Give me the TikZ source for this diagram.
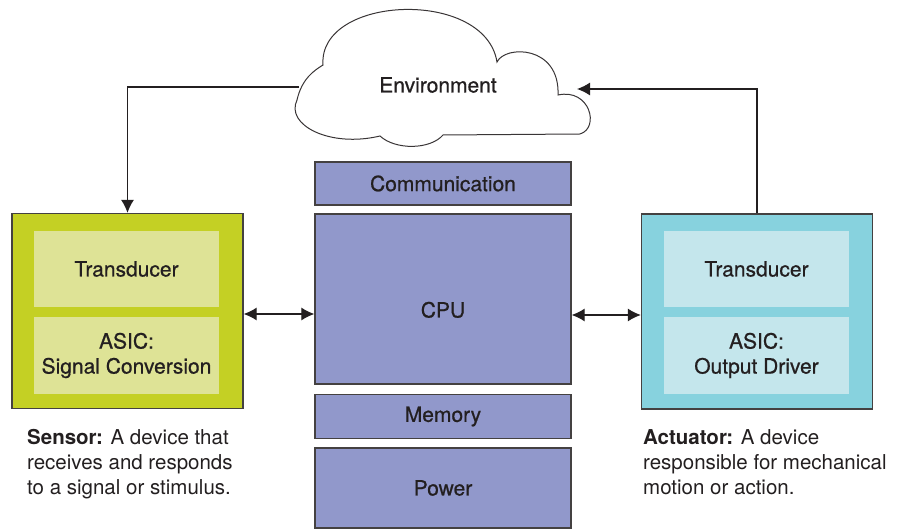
\documentclass[tikz,border=0pt]{standalone}
\usepackage{fontspec}
\setmainfont{TeX Gyre Heros}
\newfontfamily\medfont[FakeBold=0.7]{TeX Gyre Heros}
\usepackage{tikz}
\usetikzlibrary{arrows.meta}
\usetikzlibrary{positioning}

\definecolor{senOut}{RGB}{196,208,36}
\definecolor{senIn}{RGB}{222,227,150}
\definecolor{actOut}{RGB}{135,210,222}
\definecolor{actIn}{RGB}{196,230,236}
\definecolor{mcu}{RGB}{145,152,203}
\definecolor{ink}{RGB}{35,31,32}

\begin{document}
\begin{tikzpicture}[x=1pt,y=-1pt]
			\tikzset{lab/.style = {font=\medfont\fontsize{21}{25}\selectfont, text=ink, align=center}}
			\tikzset{outer/.style = {shape=rectangle, draw=ink!85, line width=1.3pt,
					minimum width=231pt, minimum height=195pt, inner sep=0pt}}
			\tikzset{inner/.style = {lab, shape=rectangle, minimum width=185pt,
					minimum height=76pt, inner sep=0pt}}
			\tikzset{block/.style = {lab, shape=rectangle, draw=ink!85, line width=1.3pt,
					fill=mcu, minimum width=256pt, inner sep=0pt}}
			\tikzset{desc/.style = {font=\fontsize{20.5}{25}\selectfont, text=ink,
					align=left, inner sep=0pt}}
			\tikzset{edge/.style = {->, >={Latex[length=13pt,width=13pt]}, line width=1.2pt, draw=ink}}
			\tikzset{edgebi/.style = {<->, >={Latex[length=13pt,width=13pt]}, line width=1.2pt, draw=ink}}
			
			\useasboundingbox (0,0) rectangle (905,529);
			
			% cloud
			\draw[ink!90, line width=1pt, fill=white] (323,65)
				.. controls (318,-5) and (485,-12) .. (497,62)
				.. controls (505,45) and (560,45) .. (558,95)
				.. controls (590,88) and (600,128) .. (580,134)
				-- (443,135)
				.. controls (430,150) and (395,150) .. (380,136)
				.. controls (330,148) and (285,125) .. (297,100)
				.. controls (302,78) and (315,70) .. cycle;
			\node[lab] (env) at (438,85) {Environment};
			\coordinate (envL) at (299,87);
			\coordinate (envR) at (577,89);
			
			% vertices
			\node[outer, fill=senOut] (sen) at (127.5,311) {};
			\node[inner, fill=senIn] (sa) at (126.5,269) {Transducer};
			\node[inner, fill=senIn] (sb) at (126.5,355.5) {ASIC:\\Signal Conversion};
			
			\node[outer, fill=actOut] (act) at (757,311.5) {};
			\node[inner, fill=actIn] (aa) at (756.5,269) {Transducer};
			\node[inner, fill=actIn] (ab) at (756.5,355.5) {ASIC:\\Output Driver};
			
			\node[block, minimum height=43pt] (com) at (443,183.5) {Communication};
			\node[block, minimum height=170pt, text height=37pt, text depth=0pt] (cpu) at (443,299) {CPU};
			\node[block, minimum height=44pt] (mem) at (443,416.5) {Memory};
			\node[block, minimum height=80pt] (pwr) at (443,488) {Power};
			
			\node[desc, anchor=north west] (sd) at (27,429) {\textbf{Sensor:} A device that\\receives and responds\\to a signal or stimulus.};
			\node[desc, anchor=north west] (ad) at (643,429) {\textbf{Actuator:} A device\\responsible for mechanical\\motion or action.};
			
			%edges
			\draw[edge] (envL) -| (sen.north);
			\draw[edge] (act.north) |- (envR);
			\draw[edgebi] (sen.east |- 0,314) -- (cpu.west |- 0,314);
			\draw[edgebi] (cpu.east |- 0,315) -- (act.west |- 0,315);
			
\end{tikzpicture}
\end{document}
